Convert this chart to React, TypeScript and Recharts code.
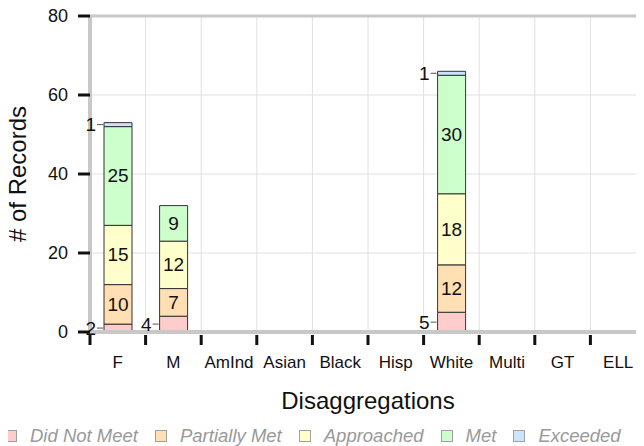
import React from 'react';
import { BarChart, Bar, XAxis, YAxis, CartesianGrid, ReferenceLine, LabelList, Legend } from 'recharts';

const categories = ['F', 'M', 'AmInd', 'Asian', 'Black', 'Hisp', 'White', 'Multi', 'GT', 'ELL'];
const didNotMeet = [2, 4, 0, 0, 0, 0, 5, 0, 0, 0];
const partiallyMet = [10, 7, 0, 0, 0, 0, 12, 0, 0, 0];
const approached = [15, 12, 0, 0, 0, 0, 18, 0, 0, 0];
const met = [25, 9, 0, 0, 0, 0, 30, 0, 0, 0];
const exceeded = [1, 0, 0, 0, 0, 0, 1, 0, 0, 0];

const seriesNames = ['Did Not Meet', 'Partially Met', 'Approached', 'Met', 'Exceeded'];
const seriesKeys = ['dnm', 'pm', 'app', 'met', 'exc'];
const seriesColors = ['#ffcccc', '#ffdfb3', '#ffffcc', '#ccffcc', '#cce5ff'];
const yTicks = [0, 20, 40, 60, 80];

const seriesValues = [didNotMeet, partiallyMet, approached, met, exceeded];
const data = categories.map((c, i) => {
  const row: any = { cat: c };
  seriesKeys.forEach((k, j) => { row[k] = seriesValues[j][i]; });
  return row;
});

const FONT = '"Liberation Sans", Arial, Helvetica, sans-serif';
const AXIS_GREY = '#c8c8c8';
const GRID_GREY = '#e0e0e0';

const SegLabel = (props: any) => {
  const { x, y, width, height, value } = props;
  if (!value) return null;
  const mid = Number(y) + Number(height) / 2;
  if (value >= 7) {
    return (
      <text x={Number(x) + Number(width) / 2} y={mid} textAnchor="middle" dominantBaseline="central" fontSize={19} fill="#111">
        {value}
      </text>
    );
  }
  return (
    <g>
      <line x1={Number(x) - 7} y1={mid} x2={Number(x) - 1} y2={mid} stroke="#555" strokeWidth={1} />
      <text x={Number(x) - 8} y={mid} textAnchor="end" dominantBaseline="central" fontSize={19} fill="#111">
        {value}
      </text>
    </g>
  );
};

const XTick = (props: any) => {
  const { x, y, payload, width, visibleTicksCount } = props;
  const half = payload && payload.offset != null && payload.offset > 0
    ? payload.offset
    : Number(width) / Number(visibleTicksCount || categories.length) / 2;
  return (
    <g>
      <line x1={x - half} x2={x - half} y1={y + 3} y2={y + 13} stroke="#111" strokeWidth={3} />
      <text x={x} y={y + 30} textAnchor="middle" dominantBaseline="central" fontSize={17} fill="#111">
        {payload.value}
      </text>
    </g>
  );
};

const YLabel = (props: any) => {
  const vb = props.viewBox || { x: 0, y: 0, width: 0, height: 0 };
  const cx = vb.x + 18;
  const cy = vb.y + vb.height / 2;
  return (
    <text x={cx} y={cy} transform={`rotate(-90, ${cx}, ${cy})`} textAnchor="middle" fontSize={24} fill="#111">
      # of Records
    </text>
  );
};

const XLabel = (props: any) => {
  const vb = props.viewBox || { x: 0, y: 0, width: 0, height: 0 };
  return (
    <text x={vb.x + vb.width / 2} y={vb.y + 77} textAnchor="middle" fontSize={24} fill="#111">
      Disaggregations
    </text>
  );
};

const LegendContent = () => (
  <div style={{ display: 'flex', alignItems: 'center', height: 24, fontStyle: 'italic', fontSize: 18.5, color: '#999', whiteSpace: 'nowrap', fontFamily: FONT }}>
    {seriesNames.map((n, i) => (
      <div key={n} style={{ display: 'flex', alignItems: 'center', marginRight: 17 }}>
        <span style={{ display: 'inline-block', width: 12, height: 12, boxSizing: 'border-box', background: seriesColors[i], border: '1px solid #a0a0a0', marginRight: 13 }} />
        <span>{n}</span>
      </div>
    ))}
  </div>
);

export default function App() {
  return (
    <div style={{ width: 636, height: 438, overflow: 'hidden', position: 'relative', fontFamily: FONT }}>
      <BarChart width={660} height={438} data={data} margin={{ top: 8, right: 22, left: 0, bottom: 0 }}>
        <CartesianGrid vertical={false} stroke={GRID_GREY} strokeWidth={1} />
        {categories.slice(1).map((c) => (
          <ReferenceLine key={c} x={c} position="start" stroke={GRID_GREY} strokeWidth={1} />
        ))}
        <ReferenceLine y={80} stroke={AXIS_GREY} strokeWidth={3} />
        <XAxis
          dataKey="cat"
          height={90}
          interval={0}
          tickSize={0}
          tickMargin={0}
          tickLine={false}
          axisLine={{ stroke: AXIS_GREY, strokeWidth: 4 }}
          tick={<XTick />}
          label={<XLabel />}
        />
        <YAxis
          width={82}
          domain={[0, 80]}
          ticks={yTicks}
          interval={0}
          tickSize={12}
          tickMargin={10}
          tickLine={{ stroke: '#111', strokeWidth: 3 }}
          axisLine={{ stroke: AXIS_GREY, strokeWidth: 4 }}
          tick={{ fontSize: 18, fill: '#111' }}
          label={<YLabel />}
        />
        {seriesKeys.map((k, i) => (
          <Bar key={k} dataKey={k} name={seriesNames[i]} stackId="a" fill={seriesColors[i]} stroke="#333" strokeWidth={1} barSize={28} isAnimationActive={false}>
            <LabelList dataKey={k} content={SegLabel} />
          </Bar>
        ))}
        <Legend verticalAlign="bottom" align="left" content={<LegendContent />} wrapperStyle={{ left: -3, bottom: -2, width: 700 }} />
      </BarChart>
    </div>
  );
}
